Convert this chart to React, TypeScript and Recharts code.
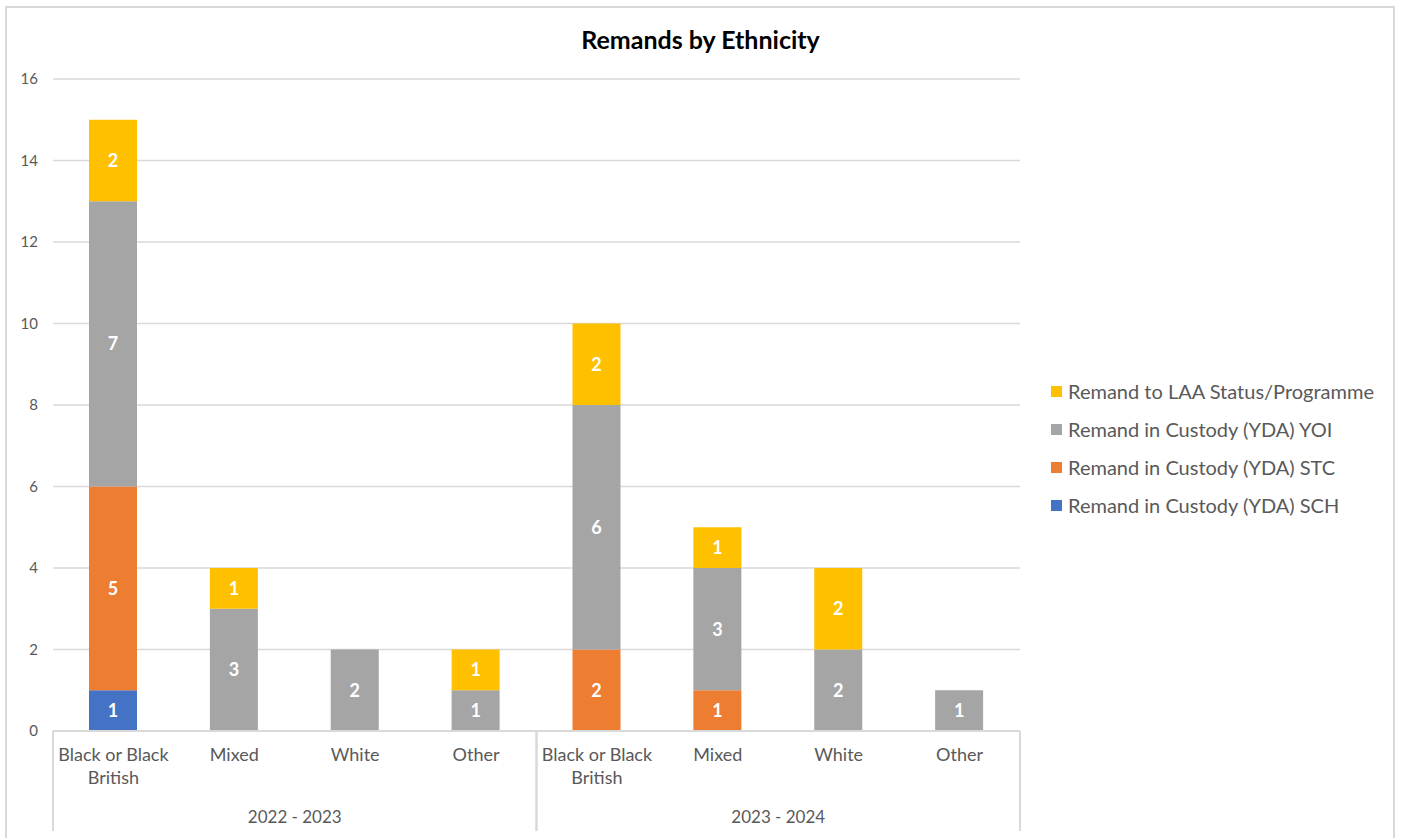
import { Bar, BarChart, CartesianGrid, LabelList, Legend, XAxis, YAxis } from "recharts";

const categories = [
  "Black or Black British",
  "Mixed",
  "White",
  "Other",
  "Black or Black British",
  "Mixed",
  "White",
  "Other",
];
const periods = [
  "2022 - 2023",
  "2022 - 2023",
  "2022 - 2023",
  "2022 - 2023",
  "2023 - 2024",
  "2023 - 2024",
  "2023 - 2024",
  "2023 - 2024",
];
const schValues = [1, 0, 0, 0, 0, 0, 0, 0];
const stcValues = [5, 0, 0, 0, 2, 1, 0, 0];
const yoiValues = [7, 3, 2, 1, 6, 3, 2, 1];
const laaValues = [2, 1, 0, 1, 2, 1, 2, 0];
const yTicks = [0, 2, 4, 6, 8, 10, 12, 14, 16];

const series = [
  { key: "sch", name: "Remand in Custody (YDA) SCH", color: "#4472C4" },
  { key: "stc", name: "Remand in Custody (YDA) STC", color: "#ED7D31" },
  { key: "yoi", name: "Remand in Custody (YDA) YOI", color: "#A5A5A5" },
  { key: "laa", name: "Remand to LAA Status/Programme", color: "#FFC000" },
];

const data = categories.map((name, i) => ({
  name,
  period: periods[i],
  sch: schValues[i],
  stc: stcValues[i],
  yoi: yoiValues[i],
  laa: laaValues[i],
}));

const FONT = "Lato, 'Open Sans', sans-serif";
const TEXT = "#595959";
const LINE = "#d9d9d9";

function wrap(label: string, maxChars = 14) {
  const lines: string[] = [];
  let cur = "";
  for (const w of label.split(" ")) {
    const next = cur ? cur + " " + w : w;
    if (next.length > maxChars && cur) {
      lines.push(cur);
      cur = w;
    } else {
      cur = next;
    }
  }
  if (cur) lines.push(cur);
  return lines;
}

function CategoryTick({ x, y, payload }: any) {
  const lines = wrap(String(payload.value));
  return (
    <g>
      {lines.map((line, i) => (
        <text key={i} x={x} y={y + 30 + i * 23} textAnchor="middle" fill={TEXT} fontSize={18} fontFamily={FONT}>
          {line}
        </text>
      ))}
    </g>
  );
}

function PeriodTick({ x, y, payload }: any) {
  const half = payload.offset ?? 0;
  return (
    <g>
      <line x1={x - half} x2={x - half} y1={y - 60} y2={y + 40} stroke={LINE} strokeWidth={2} />
      <line x1={x + half} x2={x + half} y1={y - 60} y2={y + 40} stroke={LINE} strokeWidth={2} />
      <text x={x} y={y + 32} textAnchor="middle" fill={TEXT} fontSize={17} fontFamily={FONT}>
        {payload.value}
      </text>
    </g>
  );
}

function LegendContent({ payload }: any) {
  const items = [...(payload || [])].reverse();
  return (
    <div style={{ fontFamily: FONT }}>
      {items.map((item: any) => (
        <div key={item.value} style={{ display: "flex", alignItems: "center", height: 38, color: TEXT, fontSize: 20 }}>
          <span style={{ display: "inline-block", width: 11, height: 11, background: item.color, marginRight: 6 }} />
          {item.value}
        </div>
      ))}
    </div>
  );
}

const hideZero = (v: any) => (v ? v : "");

export default function App() {
  return (
    <div style={{ position: "absolute", left: 0, top: 0, width: 1401, height: 838, overflow: "hidden", background: "#fff" }}>
      <div
        style={{
          position: "absolute",
          left: 5,
          top: 6,
          width: 1390,
          height: 900,
          border: `2px solid ${LINE}`,
          boxSizing: "border-box",
        }}
      />
      <div
        style={{
          position: "absolute",
          left: 0,
          top: 24,
          width: 1401,
          textAlign: "center",
          fontFamily: FONT,
          fontWeight: 700,
          fontSize: 25,
          color: "#000",
        }}
      >
        Remands by Ethnicity
      </div>
      <div style={{ position: "absolute", left: 0, top: 0 }}>
        <BarChart width={1401} height={838} data={data} margin={{ top: 79, right: 381, bottom: 7, left: 0 }} barSize={48}>
          <CartesianGrid vertical={false} stroke={LINE} strokeWidth={1.5} />
          <YAxis
            width={53}
            domain={[0, 16]}
            ticks={yTicks}
            axisLine={false}
            tickLine={false}
            tickSize={0}
            tickMargin={15}
            tick={{ fill: TEXT, fontSize: 15, fontFamily: FONT }}
          />
          <XAxis
            dataKey="name"
            height={60}
            interval={0}
            axisLine={{ stroke: LINE, strokeWidth: 2 }}
            tickLine={false}
            tickSize={0}
            tickMargin={0}
            tick={<CategoryTick />}
          />
          <XAxis
            xAxisId="period"
            dataKey="period"
            allowDuplicatedCategory={false}
            height={40}
            interval={0}
            axisLine={false}
            tickLine={false}
            tickSize={0}
            tickMargin={0}
            tick={<PeriodTick />}
          />
          <Legend
            layout="vertical"
            align="center"
            verticalAlign="middle"
            content={<LegendContent />}
            wrapperStyle={{ left: 1051, top: 372, width: 345, right: "auto", bottom: "auto" }}
          />
          {series.map((s) => (
            <Bar key={s.key} dataKey={s.key} name={s.name} stackId="a" fill={s.color} isAnimationActive={false}>
              <LabelList
                dataKey={s.key}
                position="center"
                formatter={hideZero}
                fill="#fff"
                fontSize={18}
                fontWeight={700}
                fontFamily={FONT}
              />
            </Bar>
          ))}
        </BarChart>
      </div>
    </div>
  );
}
